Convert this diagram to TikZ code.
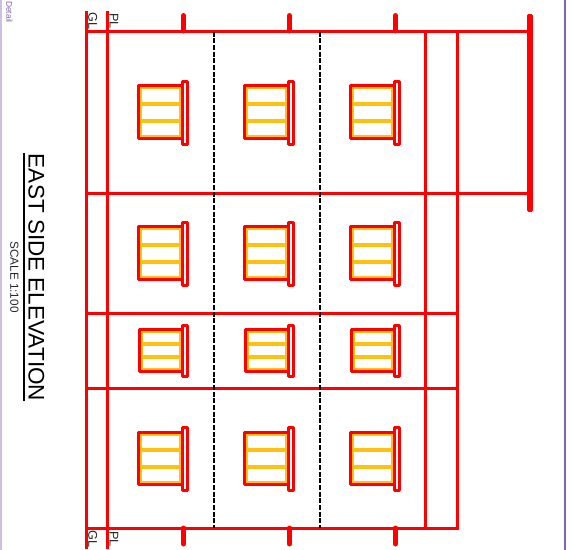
\documentclass[tikz,border=0pt]{standalone}
\usepackage{fontspec}
\setmainfont{Liberation Sans}
\definecolor{wred}{RGB}{255,0,0}
\definecolor{wamber}{RGB}{255,192,16}
\definecolor{lilac}{RGB}{205,190,228}
\definecolor{purp}{RGB}{130,100,180}
\tikzset{
  wall/.style={draw=wred,line width=2.25pt},
  stub/.style={draw=wred,line width=3.75pt,line cap=round},
  sep/.style={draw=black,line width=1.5pt,dash pattern=on 3.9pt off 1.1pt},
  frame/.style={draw=wred,line width=2.25pt,line join=round},
  sill/.style={frame,fill=white},
  thinbar/.style={draw=wred,line width=2.25pt,fill=wred!30!white,line join=round},
  pane/.style={draw=wamber,line width=2.25pt,fill=white},
  bar/.style={draw=wamber,line width=3pt},
  lab/.style={rotate=-90,inner sep=0pt,text=black!85}
}
% left, top, right, bottom, bar 1, bar 2, sill top, sill bottom
\newcommand{\win}[8]{%
  \draw[pane] (#1+2,#2+2) rectangle (#3-2.5,#4-2);
  \draw[bar] (#1+2,#5) -- (#3,#5);
  \draw[bar] (#1+2,#6) -- (#3,#6);
  \draw[frame] (#3,#2) -- (#1,#2) -- (#1,#4) -- (#3,#4);
  \draw[sill] (#3-0.5,#7) rectangle (#3+4.5,#8);
}
\begin{document}
\begin{tikzpicture}[x=0.75pt,y=-0.75pt]
\useasboundingbox (0,0) rectangle (572,550);
\fill[white] (0,0) rectangle (572,550);
\draw[lilac,line width=1.5pt] (0.7,0) -- (0.7,550);
\draw[purp,line width=1.5pt] (565,0) -- (565,550);
\node[lab,text=purp] (detail) at (9.5,12) {\fontsize{6.3pt}{7pt}\selectfont Detail};
% windows
\foreach \x in {0,106,212}{
  \win{138.5+\x}{85.5}{183+\x}{138.5}{104}{121}{81.5}{144.5}
  \win{138.5+\x}{226.5}{183+\x}{279.5}{245}{262}{222.5}{285.5}
  \win{139.5+\x}{329.5}{183+\x}{371.5}{344}{357}{325.5}{376.5}
  \win{138.5+\x}{432.5}{183+\x}{484.5}{450}{467}{427.5}{490.5}
  \draw[stub] (183.5+\x,15.5) -- (183.5+\x,31);
  \draw[stub] (183.5+\x,528) -- (183.5+\x,544);
}
% structure
\coordinate (gt) at (86.5,11); \coordinate (gb) at (86.5,549);
\coordinate (pt) at (107.5,11); \coordinate (pb) at (107.5,549);
\draw[wall] (gt) -- (gb);
\draw[wall] (pt) -- (pb);
\draw[wall] (86.5,31.5) -- (527,31.5);
\draw[wall] (86.5,193.5) -- (527,193.5);
\draw[wall] (86.5,313.5) -- (458,313.5);
\draw[wall] (86.5,388.5) -- (458,388.5);
\draw[wall] (86.5,528.5) -- (459,528.5);
\draw[wall] (425.5,31.5) -- (425.5,528.5);
\draw[wall] (457.5,31.5) -- (457.5,530);
\draw[thinbar] (528.5,15) rectangle (531.5,210);
\draw[sep] (214,31.5) -- (214,528);
\draw[sep] (320,31.5) -- (320,528);
% labels
\node[lab] (gl1) at (92.7,21) {\fontsize{9.5pt}{10pt}\selectfont GL};
\node[lab] (pl1) at (114,21) {\fontsize{9.5pt}{10pt}\selectfont PL};
\node[lab] (gl2) at (92.7,539) {\fontsize{9.5pt}{10pt}\selectfont GL};
\node[lab] (pl2) at (114,539) {\fontsize{9.5pt}{10pt}\selectfont PL};
\node[lab,text=black] (title) at (36.5,277.5) {\fontsize{16.9pt}{18pt}\selectfont EAST SIDE ELEVATION};
\draw[black,line width=1.5pt] (24,152.5) -- (24,401);
\node[lab] (scale) at (14.5,277) {\fontsize{8.8pt}{10pt}\selectfont SCALE 1:100};
\end{tikzpicture}
\end{document}
